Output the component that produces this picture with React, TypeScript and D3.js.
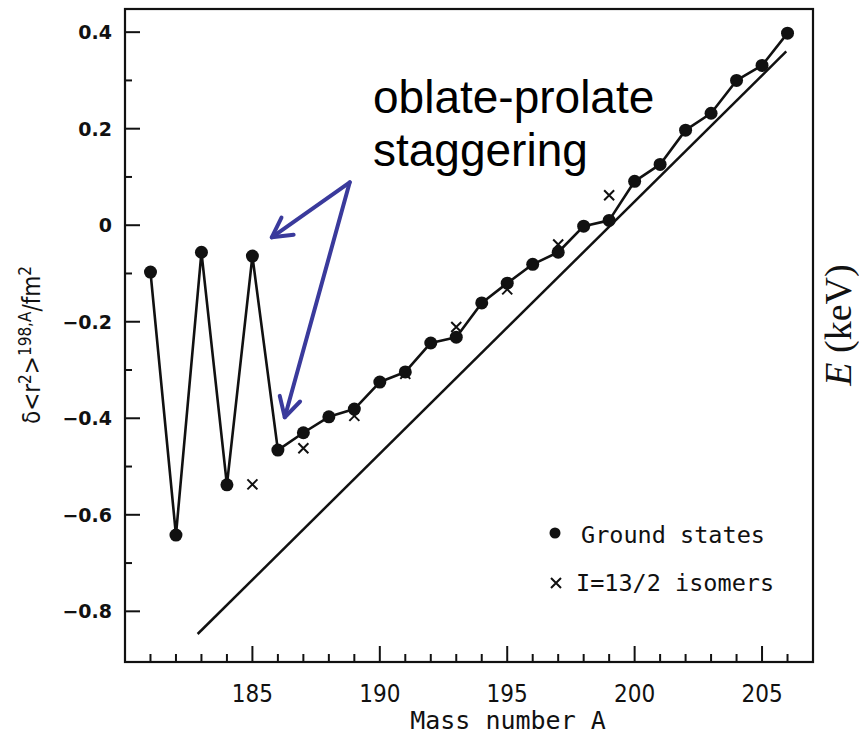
import React from "react";
import * as d3 from "d3";

// ---- data ----
const GROUND_A = [181, 182, 183, 184, 185, 186, 187, 188, 189, 190, 191, 192, 193, 194, 195, 196, 197, 198, 199, 200, 201, 202, 203, 204, 205, 206];
const GROUND_V = [-0.097, -0.642, -0.056, -0.538, -0.064, -0.466, -0.430, -0.397, -0.381, -0.325, -0.304, -0.244, -0.232, -0.161, -0.120, -0.081, -0.056, -0.002, 0.010, 0.091, 0.126, 0.197, 0.232, 0.300, 0.331, 0.398];
const ISOMER_A = [185, 187, 189, 191, 193, 195, 197, 199];
const ISOMER_V = [-0.537, -0.462, -0.395, -0.308, -0.211, -0.133, -0.040, 0.062];
const REF_LINE_A = [182.85, 205.95];
const REF_LINE_V = [-0.847, 0.36];
const X_MAJOR = [185, 190, 195, 200, 205];
const X_MINOR = d3.range(181, 207);
const Y_MAJOR = [0.4, 0.2, 0, -0.2, -0.4, -0.6, -0.8];
const Y_MINOR = [0.3, 0.1, -0.1, -0.3, -0.5, -0.7];
const Y_LABELS = ["0.4", "0.2", "0", "\u22120.2", "\u22120.4", "\u22120.6", "\u22120.8"];
const ANNOT_LINES = ["oblate-prolate", "staggering"];
const ARROW_FROM = [188.82, 0.089];
const ARROW_TO = [[185.76, -0.025], [186.27, -0.398]];

const W = 859, H = 737;
const L = 125, R = 813, T = 9, B = 662;

export default function App() {
  const x = d3.scaleLinear().domain([180, 207]).range([L, R]);
  const y = d3.scaleLinear().domain([-0.905, 0.448]).range([B, T]);
  const pts = GROUND_A.map((a, i) => [a, GROUND_V[i]] as [number, number]);
  const line = d3.line<[number, number]>().x(d => x(d[0])).y(d => y(d[1]));
  const blue = "#3a3a9c";
  const axisFont = "'DejaVu Sans Condensed', 'DejaVu Sans', sans-serif";
  const monoFont = "'DejaVu Sans Mono', monospace";

  const arrowHead = (fx: number, fy: number, tx: number, ty: number) => {
    const ang = Math.atan2(ty - fy, tx - fx);
    const len = 22, spread = 0.5;
    const p1 = [tx - len * Math.cos(ang - spread), ty - len * Math.sin(ang - spread)];
    const p2 = [tx - len * Math.cos(ang + spread), ty - len * Math.sin(ang + spread)];
    return `M${p1[0]},${p1[1]} L${tx},${ty} L${p2[0]},${p2[1]}`;
  };

  const fx = x(ARROW_FROM[0]), fy = y(ARROW_FROM[1]);

  return (
    <svg width={W} height={H} style={{ position: "absolute", left: 0, top: 0, background: "#fff" }}>
      <rect x={0} y={0} width={W} height={H} fill="#fff" />
      {/* frame */}
      <rect x={L} y={T} width={R - L} height={B - T} fill="none" stroke="#111" strokeWidth={2.2} />
      {/* y ticks */}
      {Y_MAJOR.map((v, i) => (
        <g key={"ym" + i}>
          <line x1={L} x2={L + 15} y1={y(v)} y2={y(v)} stroke="#111" strokeWidth={2} />
          <text x={112} y={y(v)} dy="0.36em" textAnchor="end" fontFamily="'DejaVu Sans', sans-serif" fontWeight="bold" fontSize={19} fill="#111">{Y_LABELS[i]}</text>
        </g>
      ))}
      {Y_MINOR.map((v, i) => (
        <line key={"yn" + i} x1={L} x2={L + 7} y1={y(v)} y2={y(v)} stroke="#111" strokeWidth={2} />
      ))}
      {/* x ticks */}
      {X_MINOR.map(a => (
        <line key={"xn" + a} x1={x(a)} x2={x(a)} y1={B} y2={B - (a % 5 === 0 ? 16 : 8)} stroke="#111" strokeWidth={2} />
      ))}
      {X_MAJOR.map(a => (
        <text key={"xl" + a} x={x(a)} y={702} textAnchor="middle" fontFamily={axisFont} fontSize={24} fill="#111">{a}</text>
      ))}
      <text x={508} y={729} textAnchor="middle" fontFamily={monoFont} fontSize={25} fill="#111">Mass number A</text>
      {/* y label */}
      <text transform={`translate(40,345) rotate(-90)`} textAnchor="middle" fontFamily={axisFont} fontSize={24} fill="#111">
        δ&lt;r<tspan dy={-9} fontSize={17}>2</tspan><tspan dy={9}>&gt;</tspan><tspan dy={-9} fontSize={17}>198,A</tspan><tspan dy={9}>/fm</tspan><tspan dy={-9} fontSize={17}>2</tspan>
      </text>
      {/* reference straight line */}
      <line x1={x(REF_LINE_A[0])} y1={y(REF_LINE_V[0])} x2={x(REF_LINE_A[1])} y2={y(REF_LINE_V[1])} stroke="#111" strokeWidth={2.5} />
      {/* ground state line and points */}
      <path d={line(pts) || ""} fill="none" stroke="#111" strokeWidth={2.6} strokeLinejoin="round" />
      {pts.map((p, i) => (
        <circle key={"g" + i} cx={x(p[0])} cy={y(p[1])} r={6.5} fill="#111" />
      ))}
      {/* isomers */}
      {ISOMER_A.map((a, i) => {
        const cx = x(a), cy = y(ISOMER_V[i]), s = 5;
        return (
          <path key={"iso" + i} d={`M${cx - s},${cy - s}L${cx + s},${cy + s}M${cx - s},${cy + s}L${cx + s},${cy - s}`} stroke="#111" strokeWidth={2} />
        );
      })}
      {/* legend */}
      <circle cx={555} cy={533} r={5.5} fill="#111" />
      <text x={581} y={543} fontFamily={monoFont} fontSize={23.5} fill="#111">Ground states</text>
      <path d="M551,578L561,588M551,588L561,578" stroke="#111" strokeWidth={2} />
      <text x={576} y={591} fontFamily={monoFont} fontSize={23.5} fill="#111">I=13/2 isomers</text>
      {/* annotation */}
      {ANNOT_LINES.map((t, i) => (
        <text key={"an" + i} x={373} y={113 + i * 53} fontFamily="'Liberation Sans', Arial, sans-serif" fontSize={46} fill="#000">{t}</text>
      ))}
      {ARROW_TO.map((p, i) => {
        const tx = x(p[0]), ty = y(p[1]);
        return (
          <g key={"ar" + i} stroke={blue} strokeWidth={4} fill="none" strokeLinecap="round" strokeLinejoin="round">
            <line x1={fx} y1={fy} x2={tx} y2={ty} />
            <path d={arrowHead(fx, fy, tx, ty)} />
          </g>
        );
      })}
      {/* E (keV) */}
      <text transform="translate(851,325) rotate(-90)" textAnchor="middle" fontFamily="'Liberation Serif', 'DejaVu Serif', serif" fontSize={38} fill="#111">
        <tspan fontStyle="italic">E</tspan> (keV)
      </text>
    </svg>
  );
}
